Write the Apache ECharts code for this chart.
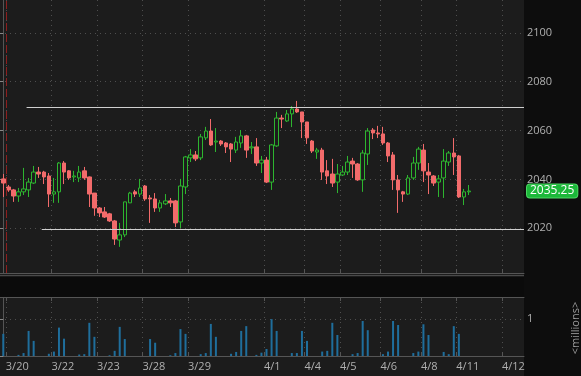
<!DOCTYPE html>
<html>
<head>
<meta charset="utf-8">
<script src="https://cdn.jsdelivr.net/npm/echarts@6/dist/echarts.min.js"></script>
<style>
html, body { margin: 0; padding: 0; width: 581px; height: 376px; overflow: hidden; }
body { background: linear-gradient(to right, #1c1c1c 0, #1c1c1c 524px, #0d0d0d 524px); }
#chart { width: 581px; height: 376px; }
</style>
</head>
<body>
<div id="chart"></div>
<script>
// candles, one per slot, left to right
var open = [2040.2, 2036.9, 2035.7, 2033.2, 2034.9, 2035.7, 2038.5, 2043.0, 2043.0, 2041.4,
    2034.0, 2034.9, 2046.7, 2043.5, 2041.0, 2040.6, 2043.5, 2041.0, 2034.4, 2028.3,
    2026.7, 2025.9, 2023.0, 2015.2, 2017.3, 2030.4, 2034.9, 2034.0, 2037.3, 2032.4,
    2032.0, 2028.3, 2030.0, 2031.2, 2031.2, 2022.6, 2036.9, 2048.8, 2050.0, 2048.8,
    2057.0, 2059.8, 2055.3, 2055.7, 2054.9, 2054.5, 2052.0, 2054.9, 2057.8, 2052.9,
    2053.3, 2046.7, 2047.9, 2038.9, 2053.7, 2065.1, 2063.9, 2066.8, 2068.8, 2067.6,
    2063.5, 2055.7, 2051.2, 2052.0, 2043.5, 2042.2, 2038.9, 2041.8, 2043.0, 2047.5,
    2046.3, 2039.8, 2050.4, 2060.2, 2059.0, 2058.6, 2054.9, 2050.0, 2039.8, 2034.9,
    2034.0, 2040.6, 2046.7, 2052.0, 2043.0, 2041.4, 2038.9, 2040.6, 2047.1, 2050.8,
    2049.6, 2032.8, 2034.9];
var close = [2038.5, 2035.7, 2033.2, 2034.9, 2036.1, 2038.9, 2043.0, 2042.2, 2041.0, 2034.0,
    2034.9, 2046.7, 2043.0, 2040.6, 2041.4, 2043.0, 2040.6, 2034.0, 2028.3, 2026.3,
    2024.6, 2023.0, 2015.6, 2017.3, 2030.8, 2034.4, 2034.0, 2036.5, 2032.0, 2032.0,
    2028.3, 2030.4, 2031.2, 2030.4, 2022.2, 2037.3, 2049.2, 2050.0, 2048.4, 2057.4,
    2059.8, 2054.1, 2055.7, 2054.5, 2053.3, 2052.4, 2055.3, 2057.8, 2052.0, 2053.3,
    2046.7, 2047.9, 2038.9, 2054.1, 2065.1, 2064.7, 2066.8, 2068.8, 2067.6, 2063.5,
    2057.0, 2051.6, 2052.0, 2043.0, 2041.4, 2038.5, 2042.2, 2043.0, 2047.1, 2046.3,
    2039.8, 2050.8, 2059.8, 2059.0, 2058.6, 2054.9, 2049.6, 2039.8, 2035.7, 2034.0,
    2040.6, 2046.7, 2052.4, 2043.5, 2041.8, 2038.5, 2040.2, 2047.5, 2050.8, 2049.2,
    2032.8, 2034.9, 2035.25];
var low = [2032.8, 2034.9, 2030.8, 2030.8, 2033.6, 2032.8, 2038.1, 2040.6, 2038.1, 2028.7,
    2030.4, 2030.4, 2038.1, 2039.8, 2038.9, 2038.9, 2039.8, 2028.7, 2025.1, 2024.6,
    2024.2, 2022.6, 2013.2, 2012.4, 2016.4, 2030.4, 2032.8, 2032.8, 2031.2, 2022.2,
    2026.7, 2026.7, 2029.5, 2028.7, 2020.5, 2020.1, 2034.0, 2047.1, 2047.5, 2047.9,
    2056.1, 2053.7, 2051.2, 2053.7, 2050.8, 2047.1, 2050.8, 2052.9, 2048.8, 2050.4,
    2045.5, 2042.6, 2038.5, 2035.7, 2053.3, 2061.0, 2063.5, 2061.4, 2067.2, 2056.9,
    2054.5, 2050.8, 2048.4, 2039.8, 2038.1, 2036.9, 2034.4, 2041.4, 2041.8, 2040.6,
    2039.4, 2034.9, 2045.9, 2056.5, 2056.9, 2054.1, 2047.1, 2035.7, 2026.3, 2030.8,
    2033.6, 2039.8, 2043.9, 2038.9, 2034.0, 2037.3, 2032.8, 2032.4, 2045.5, 2041.8,
    2032.4, 2029.5, 2033.6];
var high = [2042.2, 2037.7, 2036.1, 2036.5, 2044.7, 2040.6, 2045.5, 2045.1, 2043.5, 2042.6,
    2040.6, 2047.1, 2047.5, 2043.8, 2043.5, 2045.5, 2045.1, 2041.2, 2034.4, 2028.7,
    2028.7, 2026.3, 2023.4, 2022.2, 2030.8, 2034.9, 2035.7, 2040.2, 2037.7, 2033.6,
    2034.4, 2031.6, 2034.0, 2032.4, 2031.6, 2040.2, 2049.6, 2052.4, 2051.6, 2058.6,
    2061.5, 2064.7, 2061.0, 2056.1, 2055.3, 2054.9, 2057.4, 2060.2, 2058.2, 2055.3,
    2056.9, 2049.6, 2049.2, 2054.5, 2067.6, 2066.4, 2068.4, 2070.0, 2072.1, 2067.6,
    2063.5, 2056.1, 2052.9, 2052.9, 2047.9, 2048.4, 2046.3, 2045.5, 2049.6, 2048.8,
    2046.7, 2052.0, 2061.0, 2061.0, 2061.9, 2061.5, 2055.3, 2051.2, 2041.8, 2035.3,
    2041.8, 2049.2, 2053.3, 2054.5, 2046.7, 2041.8, 2041.8, 2052.4, 2051.6, 2056.9,
    2050.0, 2036.1, 2037.7];
// volume in millions, same slots
var volume = [0.6, 0, 0, 0.03, 0.08, 0.68, 0.41, 0, 0, 0.06,
    0.12, 0.77, 0.47, 0, 0, 0.04, 0.05, 0.9, 0.52, 0,
    0, 0.02, 0.14, 0.79, 0.46, 0, 0, 0, 0, 0.46,
    0.36, 0, 0, 0.02, 0.08, 0.73, 0.6, 0, 0, 0.05,
    0.08, 0.87, 0.52, 0, 0, 0.06, 0.11, 0.68, 0.81, 0,
    0.03, 0.09, 0.19, 1.0, 0.68, 0, 0, 0.08, 0.08, 0.68,
    0.41, 0, 0, 0.12, 0.14, 0.9, 0.57, 0, 0, 0.05,
    0.08, 0.95, 0.7, 0, 0, 0.05, 0.12, 0.95, 0.84, 0,
    0, 0.08, 0.12, 0.86, 0.57, 0, 0, 0.11, 0.05, 0.81,
    0.6, 0, 0];
// first slot of each day and its label
var dayStart = [1, 10, 19, 28, 37, 52, 60, 67, 75, 83, 90, 99];
var dayLabels = ['3/20', '3/22', '3/23', '3/28', '3/29', '4/1', '4/4', '4/5', '4/6', '4/8', '4/11', '4/12'];
var priceTicks = [2020, 2040, 2060, 2080, 2100];
var volTicks = [0, 1];
// drawn levels and the slot each one starts at
var levels = [2069.5, 2019.5];
var levelStart = [4.6, 7.6];
var sessionMark = 0.5;

var xMin = -0.65, xMax = 102.87;
var dayTicks = dayStart.map(function (d) { return d - 0.5; });
var candleData = open.map(function (o, i) { return [i, o, close[i], low[i], high[i]]; });
var volData = volume.map(function (v, i) { return [i, v]; });
var lastClose = close[close.length - 1];

var axisGray = '#555555';
var textGray = '#b0b0b0';
var dotted = {show: true, lineStyle: {color: '#4e4e4e', type: [1, 4], width: 1}};

function dayLabel(v) {
    var k = dayTicks.indexOf(v);
    return k >= 0 ? dayLabels[k] : '';
}

function plain(v) {
    return String(v);
}

var chart = echarts.init(document.getElementById('chart'));

var levelLines = levels.map(function (v, i) {
    return [
        {coord: [levelStart[i], v], lineStyle: {color: '#cfcfcf', width: 1, type: 'solid'}, label: {show: false}},
        {coord: [xMax, v]}
    ];
});

var option = {
    animation: false,
    backgroundColor: 'transparent',
    textStyle: {fontFamily: 'Open Sans'},
    grid: [
        {left: 0, top: 0, width: 524, height: 273},
        {left: 0, top: 297, width: 524, height: 59}
    ],
    xAxis: [
        {
            type: 'value', gridIndex: 0, min: xMin, max: xMax,
            axisLine: {show: true, lineStyle: {color: axisGray}},
            axisTick: {show: true, inside: true, length: 4, customValues: dayTicks, lineStyle: {color: axisGray}},
            axisLabel: {show: false, customValues: dayTicks},
            splitLine: dotted
        },
        {
            type: 'value', gridIndex: 1, min: xMin, max: xMax,
            axisLine: {show: true, lineStyle: {color: axisGray}},
            axisTick: {show: true, inside: true, length: 4, customValues: dayTicks, lineStyle: {color: axisGray}},
            axisLabel: {show: true, customValues: dayTicks, formatter: dayLabel, color: textGray, fontSize: 11, align: 'left', margin: 5},
            splitLine: dotted
        },
        {
            type: 'value', gridIndex: 1, position: 'top', min: xMin, max: xMax,
            axisLine: {show: true, lineStyle: {color: axisGray}},
            axisTick: {show: true, inside: true, length: 4, customValues: dayTicks, lineStyle: {color: axisGray}},
            axisLabel: {show: false},
            splitLine: {show: false}
        }
    ],
    yAxis: [
        {
            type: 'value', gridIndex: 0, position: 'right', min: 2001.7, max: 2113.4,
            axisLine: {show: true, lineStyle: {color: axisGray}},
            axisTick: {show: true, inside: true, length: 4, customValues: priceTicks, lineStyle: {color: '#888'}},
            axisLabel: {customValues: priceTicks, formatter: plain, color: textGray, fontSize: 11, margin: 3},
            splitLine: dotted
        },
        {
            type: 'value', gridIndex: 1, position: 'right', min: 0, max: 1.6,
            axisLine: {show: true, lineStyle: {color: axisGray}},
            axisTick: {show: true, inside: true, length: 4, customValues: volTicks, lineStyle: {color: '#888'}},
            axisLabel: {customValues: [1], formatter: plain, color: textGray, fontSize: 11, margin: 3},
            splitLine: dotted
        }
    ],
    series: [
        {
            type: 'candlestick',
            xAxisIndex: 0, yAxisIndex: 0,
            clip: false,
            barWidth: 4,
            data: candleData,
            itemStyle: {
                color: '#1c1c1c', color0: '#f26b6b',
                borderColor: '#2db52f', borderColor0: '#f26b6b',
                borderWidth: 1
            },
            markLine: {
                silent: true,
                symbol: 'none',
                animation: false,
                data: levelLines.concat([
                    {xAxis: sessionMark, lineStyle: {color: '#8e1e1e', width: 1, type: [8, 3]}, label: {show: false}},
                    {
                        yAxis: lastClose,
                        lineStyle: {color: 'rgba(0,0,0,0)', width: 1},
                        label: {
                            show: true, position: 'end', distance: 3,
                            formatter: function (p) { return Number(p.value).toFixed(2); },
                            color: '#ffffff', fontSize: 12, fontFamily: 'Open Sans',
                            backgroundColor: '#1cb83a', borderColor: '#4ad862', borderWidth: 1,
                            borderRadius: 3, padding: [0, 3, 0, 3], lineHeight: 13
                        }
                    }
                ])
            }
        },
        {
            type: 'bar',
            xAxisIndex: 1, yAxisIndex: 1,
            barWidth: 2,
            data: volData,
            itemStyle: {color: '#1f6e9c'}
        }
    ],
    graphic: [
        {type: 'rect', z: 100, silent: true, shape: {x: 0, y: 277, width: 524, height: 20}, style: {fill: '#0b0b0b'}},
        {type: 'line', z: 100, silent: true, shape: {x1: 0, y1: 275.5, x2: 524, y2: 275.5}, style: {stroke: '#4a4a4a', lineWidth: 1}},
        {
            type: 'text', z: 100, silent: true, x: 576, y: 328, rotation: Math.PI / 2,
            style: {text: '<millions>', fill: '#9a9a9a', font: '11px "Open Sans"', align: 'center', verticalAlign: 'middle'}
        }
    ]
};

chart.setOption(option);
</script>
</body>
</html>
